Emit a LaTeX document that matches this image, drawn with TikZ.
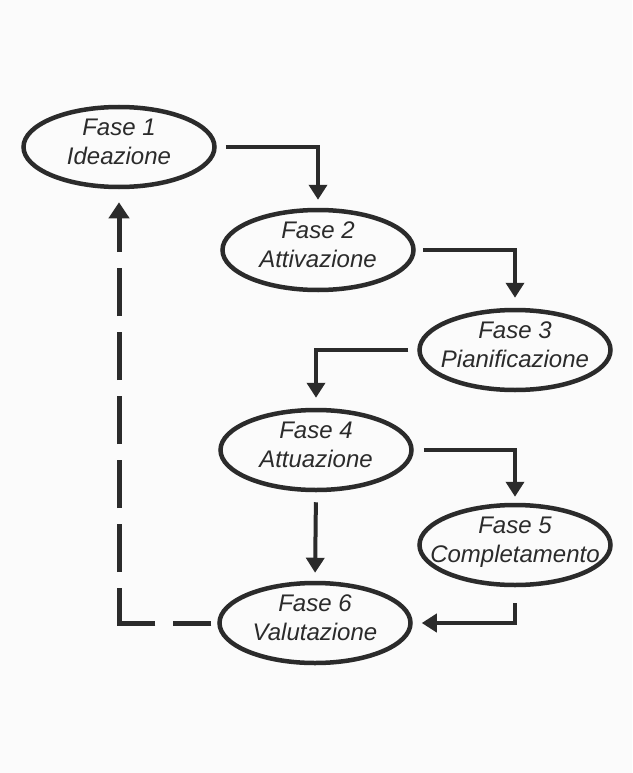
\documentclass[tikz,border=0pt]{standalone}
\usepackage{fontspec}
\setmainfont{Liberation Sans}
\usetikzlibrary{shapes.geometric,arrows.meta}
\definecolor{ink}{HTML}{2B2B2B}
\definecolor{paper}{HTML}{FBFBFB}
\newcommand\fasetxt[2]{\makebox[0pt]{\raisebox{12pt}[0pt][0pt]{\begin{tabular}[t]{@{}c@{}}#1\\#2\end{tabular}}}}
\begin{document}
\begin{tikzpicture}[x=1pt,y=-1pt,
  phase/.style={draw=ink, line width=4.5pt, ellipse, minimum width=191pt, minimum height=80pt,
    inner sep=0pt, font=\fontsize{24}{29}\selectfont\itshape, text=ink},
  flow/.style={draw=ink, line width=4pt, -{Triangle[width=18pt,length=15pt]}},
  back/.style={draw=ink, line width=5pt}]
\fill[paper] (0,0) rectangle (632,773);
\useasboundingbox (0,0) rectangle (632,773);
\node[phase] (e1) at (119,147) {\fasetxt{Fase 1}{Ideazione}};
\node[phase] (e2) at (318,250) {\fasetxt{Fase 2}{Attivazione}};
\node[phase] (e3) at (515,350) {\fasetxt{Fase 3}{Pianificazione}};
\node[phase] (e4) at (316,450) {\fasetxt{Fase 4}{Attuazione}};
\node[phase] (e5) at (515,545) {\fasetxt{Fase 5}{Completamento}};
\node[phase] (e6) at (315,623) {\fasetxt{Fase 6}{Valutazione}};
\draw[flow, shorten <=9pt, shorten >=8pt] (e1.east) -| (e2.north);
\draw[flow, shorten <=7pt, shorten >=10pt] (e2.east) -| (e3.north);
\draw[flow, shorten <=9pt, shorten >=10pt] (e3.west) -| (e4.north);
\draw[flow, shorten <=10pt, shorten >=6pt] (e4.east) -| (e5.north);
\draw[flow, shorten <=10pt, shorten >=8pt] (e4.south) -- (e6.north);
\draw[flow, shorten <=16pt, shorten >=9pt] (e5.south) |- (e6.east);
\coordinate (corner) at (e1.south |- e6.west);
\draw[back, dash pattern=on 38pt off 18pt, shorten <=6pt, shorten >=-2.5pt] (e6.west) -- (corner);
\draw[back, dash pattern=on 48pt off 16pt, dash phase=13pt, shorten >=13pt,
  -{Triangle[width=20pt,length=16pt]}] (corner) -- (e1.south);
\end{tikzpicture}
\end{document}
